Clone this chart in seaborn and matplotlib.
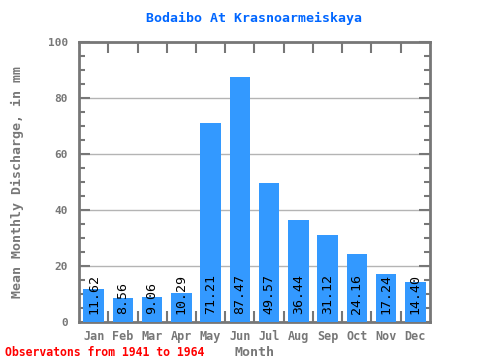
import matplotlib
matplotlib.use('Agg')
import matplotlib.pyplot as plt
import seaborn as sns
import pandas as pd
from matplotlib.ticker import MultipleLocator, FixedLocator

# Data
months = ['Jan', 'Feb', 'Mar', 'Apr', 'May', 'Jun',
          'Jul', 'Aug', 'Sep', 'Oct', 'Nov', 'Dec']
discharge = [11.62, 8.56, 9.06, 10.29, 71.21, 87.47,
             49.57, 36.44, 31.12, 24.16, 17.24, 14.40]

df = pd.DataFrame({'Month': months, 'Discharge': discharge})

sns.set_style('white')
plt.rcParams['font.family'] = ['DejaVu Sans Mono', 'DejaVu Sans']

gray = '#777777'
fig = plt.figure(figsize=(4.8, 3.6), dpi=100)
ax = fig.add_axes([79 / 480, 1 - 322 / 360, 351 / 480, 280 / 360])

sns.barplot(data=df, x='Month', y='Discharge', color='#3399ff',
            saturation=1, width=0.7, linewidth=0, ax=ax, zorder=3)

ax.set_xlim(-0.5, 11.5)
ax.set_ylim(0, 100)

# grid lines
ax.yaxis.set_major_locator(MultipleLocator(20))
ax.yaxis.set_minor_locator(MultipleLocator(5))
ax.grid(axis='y', which='major', color='#b4b4b4', linewidth=1, zorder=0)
ax.set_axisbelow(True)

# ticks
ax.xaxis.set_minor_locator(FixedLocator([i + 0.5 for i in range(11)]))
ax.tick_params(axis='x', which='major', length=0, pad=6,
               labelsize=8.5, labelcolor=gray)
ax.tick_params(axis='x', which='minor', direction='in', length=8,
               width=1.5, color=gray, top=True, bottom=True)
ax.tick_params(axis='y', which='major', direction='in', length=8,
               width=1.5, color=gray, left=True, right=True,
               labelsize=8, labelcolor=gray, pad=8)
ax.tick_params(axis='y', which='minor', direction='in', length=4,
               width=1.5, color=gray, left=True, right=True)
for lbl in ax.get_xticklabels() + ax.get_yticklabels():
    lbl.set_fontweight('bold')

for sp in ax.spines.values():
    sp.set_color(gray)
    sp.set_linewidth(2)
    sp.set_visible(True)

# value labels inside bars
for i, v in enumerate(discharge):
    ax.text(i, 3, f'{v:.2f}', rotation=90, ha='center', va='bottom',
            fontsize=9.5, color='black', zorder=4)

ax.set_xlabel('Month', fontsize=9.5, fontweight='bold', color=gray, labelpad=2)
ax.set_ylabel('Mean Monthly Discharge, in mm', fontsize=9.5,
              fontweight='bold', color=gray, labelpad=17)
fig.text(254 / 480, 1 - 18 / 360, 'Bodaibo At Krasnoarmeiskaya',
         ha='center', va='center', fontsize=9.5, fontweight='bold',
         color='#0066ff')
fig.text(5 / 480, 1 - 352 / 360, 'Observatons from 1941 to 1964',
         ha='left', va='center', fontsize=8.3, fontweight='bold',
         color='#ff0000')

fig.savefig('out.png', dpi=100)
